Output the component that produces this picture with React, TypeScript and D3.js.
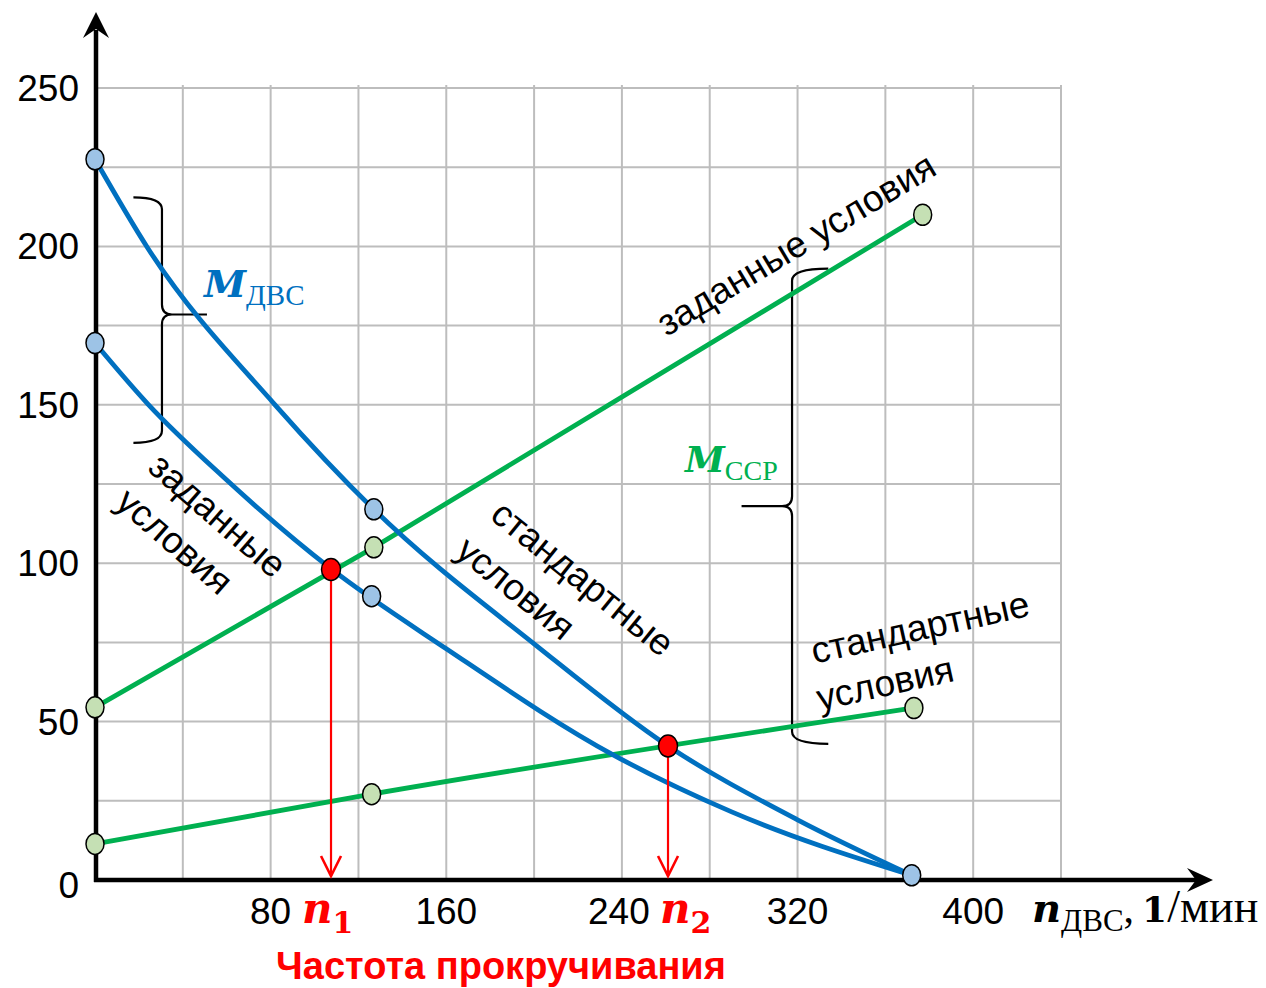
import React from 'react';
import * as d3 from 'd3';

// частота вращения, 1/мин, и моменты по кривым
const nAxisTicks = [80, 160, 240, 320, 400];
const mAxisTicks = [0, 50, 100, 150, 200, 250];

const nDvsStd = [0, 24, 82, 127, 201, 261, 320, 372];
const mDvsStd = [227.5, 199.5, 150, 117, 74, 42.3, 19, 1.5];

const nDvsSet = [0, 24, 58, 107, 160, 236, 290, 372];
const mDvsSet = [169.5, 150.3, 127.5, 98.5, 73, 39.5, 21.5, 1.5];

const nSsrSet = [0, 127, 377];
const mSsrSet = [54.5, 105, 210];

const nSsrStd = [0, 126, 373];
const mSsrStd = [11.4, 27.1, 54.3];

// точки-маркеры
const blueDots = [[0, 227.5], [127, 117], [0, 169.5], [126, 89.6], [372, 1.5]];
const greenDots = [[0, 54.5], [127, 105], [377, 210], [0, 11.4], [126, 27.1], [373, 54.3]];
const redDots = [[107.5, 98], [261, 42.3]];
const redLabelX = [302, 660];

const W = 1266;
const H = 988;
const SANS = '"Liberation Sans", Arial, sans-serif';
const SERIF = '"Liberation Serif", "Times New Roman", serif';
const MATH = '"DejaVu Serif", "Liberation Serif", serif';
const BLUE = '#0070C0';
const GREEN = '#00B050';
const RED = '#FF0000';

const x = d3.scaleLinear().domain([0, 440]).range([95, 1061]);
const y = d3.scaleLinear().domain([0, 250]).range([880, 88]);

const zip = (a: number[], b: number[]) => a.map((v, i) => [v, b[i]] as [number, number]);

const mono = d3
    .line<[number, number]>()
    .x((d) => x(d[0]))
    .y((d) => y(d[1]))
    .curve(d3.curveMonotoneX);

const straight = d3
    .line<[number, number]>()
    .x((d) => x(d[0]))
    .y((d) => y(d[1]));

// фигурная скобка: ends - x концов, spine - x стержня, tip - x острия
const brace = (ends: number, spine: number, tip: number, top: number, mid: number, bot: number) => {
    const e = x(ends), s = x(spine), t = x(tip);
    const yt = y(top), ym = y(mid), yb = y(bot);
    const dir = t > s ? 1 : -1;
    const p = d3.path();
    p.moveTo(e, yt);
    p.quadraticCurveTo(s, yt, s, yt + 12);
    p.lineTo(s, ym - 10);
    p.quadraticCurveTo(s, ym, s + dir * 10, ym);
    p.lineTo(t, ym);
    p.moveTo(s + dir * 10, ym);
    p.quadraticCurveTo(s, ym, s, ym + 10);
    p.lineTo(s, yb - 12);
    p.quadraticCurveTo(s, yb, e, yb);
    return p.toString();
};

const App = () => {
    const gridN = d3.range(40, 441, 40);
    const gridM = d3.range(25, 251, 25);

    return (
        <svg width={W} height={H} style={{ position: 'absolute', left: 0, top: 0, background: '#fff' }}>
            {/* сетка */}
            <g stroke='#BDBDBD' strokeWidth={2}>
                {gridN.map((v) => (
                    <line key={'gx' + v} x1={x(v)} x2={x(v)} y1={y(0)} y2={y(250) - 3} />
                ))}
                {gridM.map((v) => (
                    <line key={'gy' + v} x1={x(0)} x2={x(440)} y1={y(v)} y2={y(v)} />
                ))}
            </g>

            {/* оси */}
            <g>
                <line x1={x(0) + 1} x2={x(0) + 1} y1={y(0) + 2} y2={30} stroke='#000' strokeWidth={4.5} />
                <path d={`M${x(0) + 1},12 L${x(0) - 12},38 L${x(0) + 1},29 L${x(0) + 14},38 Z`} fill='#000' />
                <line x1={x(0) - 1} x2={1200} y1={y(0)} y2={y(0)} stroke='#000' strokeWidth={4.5} />
                <path d={`M1213,${y(0)} L1187,${y(0) - 12} L1196,${y(0)} L1187,${y(0) + 12} Z`} fill='#000' />
            </g>

            {/* подписи делений */}
            <g fontFamily={SANS} fontSize={37} fill='#000'>
                {mAxisTicks.map((v) => (
                    <text key={'ty' + v} x={79} y={y(v) + (v === 0 ? 5 : 0)} dy='0.35em' textAnchor='end'>
                        {v}
                    </text>
                ))}
                {nAxisTicks.map((v) => (
                    <text key={'tx' + v} x={x(v) - (v === 240 ? 3 : 0)} y={924} textAnchor='middle'>
                        {v}
                    </text>
                ))}
            </g>

            {/* скобки */}
            <g fill='none' stroke='#000' strokeWidth={2.2}>
                <path d={brace(17.5, 30.5, 51, 215.5, 178.5, 138)} />
                <path d={brace(334, 317.5, 294.5, 193, 118, 43)} />
            </g>

            {/* кривые */}
            <g fill='none' strokeWidth={4.8} strokeLinecap='round'>
                <path d={straight(zip(nSsrSet, mSsrSet)) || ''} stroke={GREEN} />
                <path d={mono(zip(nSsrStd, mSsrStd)) || ''} stroke={GREEN} />
                <path d={mono(zip(nDvsStd, mDvsStd)) || ''} stroke={BLUE} />
                <path d={mono(zip(nDvsSet, mDvsSet)) || ''} stroke={BLUE} />
            </g>

            {/* стрелки к оси */}
            <g stroke={RED} strokeWidth={2.2} fill='none'>
                {redDots.map(([n, m]) => (
                    <g key={'ar' + n}>
                        <line x1={x(n)} x2={x(n)} y1={y(m)} y2={y(0) - 4} />
                        <polyline points={`${x(n) - 10},${y(0) - 24} ${x(n)},${y(0) - 4} ${x(n) + 10},${y(0) - 24}`} strokeWidth={2.6} />
                    </g>
                ))}
            </g>

            {/* маркеры */}
            <g stroke='#000' strokeWidth={1.5}>
                {blueDots.map(([n, m], i) => (
                    <ellipse key={'b' + i} cx={x(n)} cy={y(m)} rx={9} ry={10.5} fill='#9DC3E6' />
                ))}
                {greenDots.map(([n, m], i) => (
                    <ellipse key={'g' + i} cx={x(n)} cy={y(m)} rx={9} ry={10.5} fill='#C5E0B4' />
                ))}
                {redDots.map(([n, m], i) => (
                    <ellipse key={'r' + i} cx={x(n)} cy={y(m)} rx={9.5} ry={11} fill={RED} />
                ))}
            </g>

            {/* обозначения кривых */}
            <text x={204} y={297} fill={BLUE}>
                <tspan fontFamily={MATH} fontSize={38} fontWeight='bold' fontStyle='italic'>M</tspan>
                <tspan fontFamily={SERIF} fontSize={29} dy={8}>ДВС</tspan>
            </text>
            <text x={685} y={472} fill={GREEN}>
                <tspan fontFamily={MATH} fontSize={36} fontWeight='bold' fontStyle='italic'>M</tspan>
                <tspan fontFamily={SERIF} fontSize={28} dy={8}>ССР</tspan>
            </text>

            {/* повёрнутые надписи */}
            <g fontFamily={SANS} fontSize={37} fill='#000' textAnchor='middle'>
                <text transform='translate(218,515) rotate(41)' dy='0.35em'>заданные</text>
                <text transform='translate(175,541) rotate(41)' dy='0.35em'>условия</text>
                <text transform='translate(583,578) rotate(39)' dy='0.35em'>стандартные</text>
                <text transform='translate(516,588) rotate(39)' dy='0.35em'>условия</text>
                <text transform='translate(796,244) rotate(-31)' dy='0.35em'>заданные условия</text>
                <text transform='translate(920,627) rotate(-12.5)' dy='0.35em'>стандартные</text>
                <text transform='translate(885,683) rotate(-12.5)' dy='0.35em'>условия</text>
            </g>

            {/* n1, n2 */}
            {redLabelX.map((lx, i) => (
                <text key={'n' + i} x={lx} y={923} fill={RED} fontFamily={MATH} fontWeight='bold'>
                    <tspan fontSize={42} fontStyle='italic'>n</tspan>
                    <tspan fontSize={30} dy={10}>{i + 1}</tspan>
                </text>
            ))}

            <text x={501} y={979} fill={RED} fontFamily={SANS} fontWeight='bold' fontSize={38} textAnchor='middle'>
                Частота прокручивания
            </text>

            {/* подпись оси абсцисс */}
            <text x={1032} y={922} fill='#000'>
                <tspan fontFamily={MATH} fontSize={40} fontWeight='bold' fontStyle='italic'>n</tspan>
                <tspan fontFamily={SERIF} fontSize={31} dy={9}>ДВС</tspan>
                <tspan fontFamily={SERIF} fontSize={42} dy={-9}>,</tspan>
                <tspan fontFamily={MATH} fontSize={36} fontWeight='bold' dx={8}>1</tspan>
                <tspan fontFamily={SERIF} fontSize={46}>/мин</tspan>
            </text>
        </svg>
    );
};

export default App;
